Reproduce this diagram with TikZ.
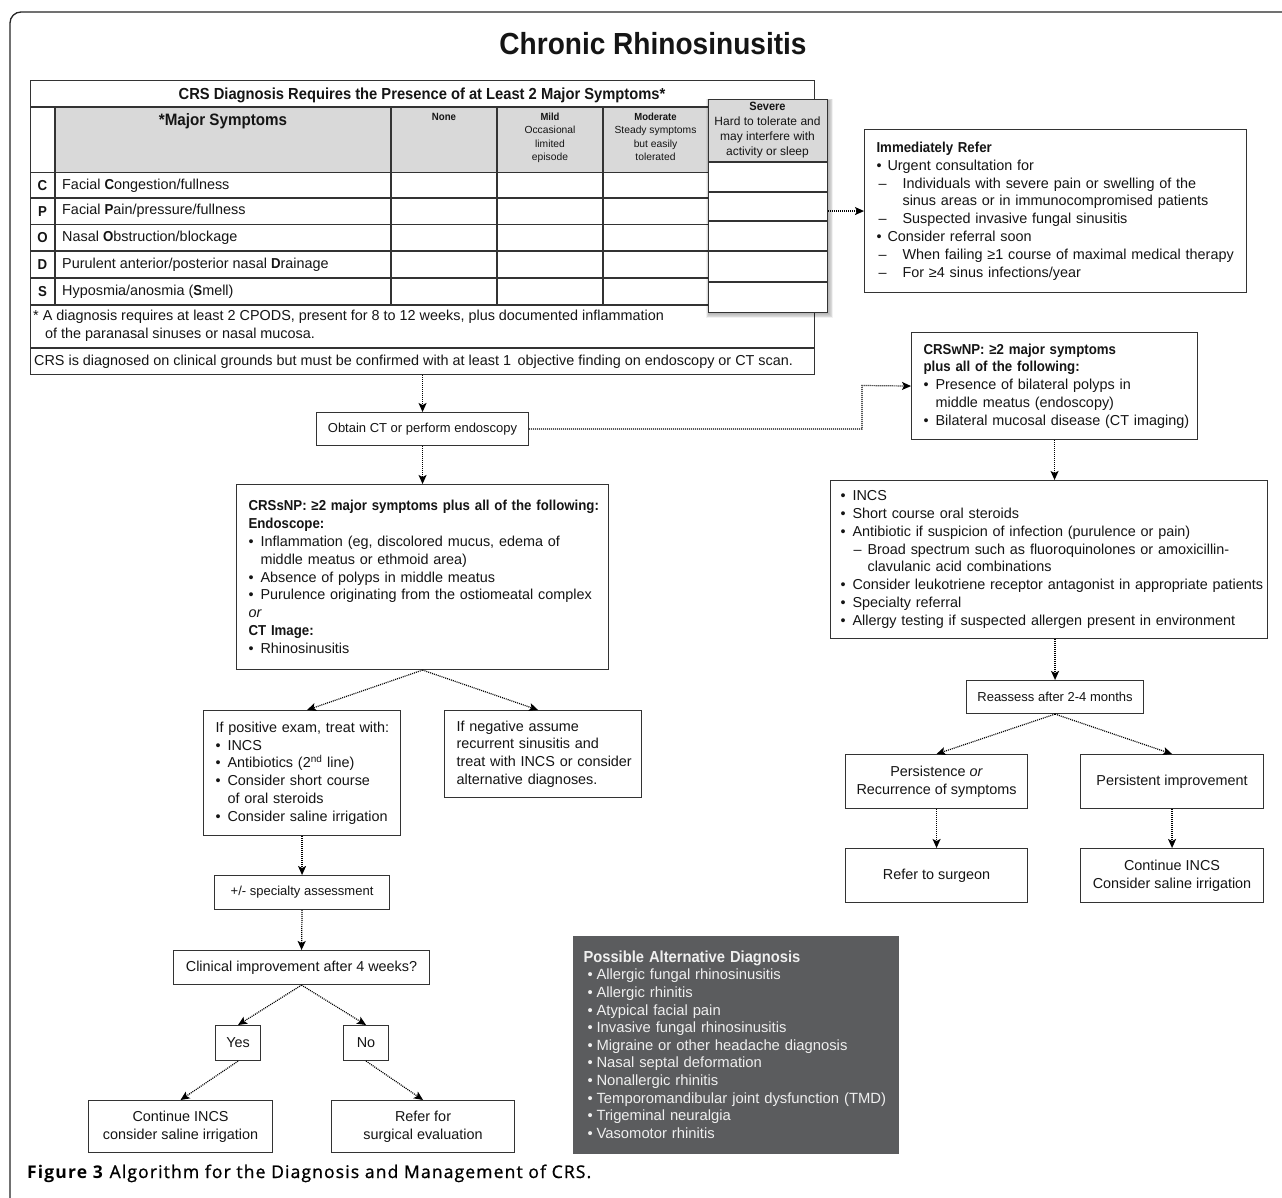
\documentclass[tikz,border=0pt]{standalone}
\usepackage{fontspec}
\setmainfont{Liberation Sans}[BoldFeatures={FakeStretch=0.92}]
\newfontfamily\capfont{Open Sans}[LetterSpace=6.5]
\newfontfamily\capfontm{Open Sans}[LetterSpace=6.5,FakeBold=1]
\usetikzlibrary{arrows.meta,calc}
\definecolor{lc}{HTML}{333333}
\definecolor{hdr}{HTML}{D9D9D9}
\definecolor{gbox}{HTML}{5B5C5E}
\definecolor{gtxt}{HTML}{EFEFEF}
\definecolor{txt}{HTML}{151515}
\newcommand{\fs}{\fontsize{14.4}{17.8}\selectfont}
\newcommand{\fss}{\fontsize{13}{16}\selectfont}
\newcommand{\bul}[1][12pt]{\makebox[#1][l]{•}}
\newcommand{\dsh}[2]{\hspace*{#1}\makebox[#2][l]{–}}
\tikzset{
  box/.style={draw=lc, line width=1.1pt, fill=white, anchor=north west, inner sep=0pt, align=left, font=\fs, text=txt},
  cbox/.style={draw=lc, line width=1.1pt, fill=white, anchor=north west, inner sep=0pt, align=center, font=\fs, text=txt},
  arr/.style={draw=black, line width=1.2pt, dash pattern=on 1pt off 1pt, -{Stealth[length=9pt,width=8pt,inset=2pt]}},
  tline/.style={draw=lc, line width=1.1pt},
  ttext/.style={inner sep=0pt, text=txt, font=\fs},
}
\begin{document}
\begin{tikzpicture}[x=1pt,y=-1pt]
\useasboundingbox (0,0) rectangle (1282,1198);
\fill[white] (0,0) rectangle (1282,1198);
% outer frame
\draw[line width=1.3pt, draw=black!85, rounded corners=11pt] (10,1215) -- (10,12) -- (1300,12);
% title
\node[ttext, anchor=base, font=\fontsize{30.5}{34}\selectfont\bfseries] (title) at (653,55) {Chronic Rhinosinusitis};

% ---------- table ----------
\fill[hdr] (55,107) rectangle (708,172.7);
\node[draw=lc, line width=1.1pt, anchor=north west, minimum width=784pt, minimum height=294pt, inner sep=0pt] (tbl) at (30,80) {};
\draw[tline] (30,107) -- (814,107);
\foreach \yy in {172.7,198,224.5,251,278,305} \draw[tline] (30,\yy) -- (708,\yy);
\draw[tline] (30,348) -- (814,348);
\foreach \xx in {55,391,497,603} \draw[tline] (\xx,107) -- (\xx,305);
\node[ttext, font=\fontsize{16}{18}\selectfont\bfseries] (ttitle) at (422,95) {CRS Diagnosis Requires the Presence of at Least 2 Major Symptoms*};
\node[ttext, anchor=north, font=\fontsize{16.5}{18}\selectfont\bfseries] (hmaj) at (223,113) {*Major Symptoms};
\node[ttext, anchor=north, font=\fontsize{10.5}{13.3}\selectfont\bfseries] (hnone) at (444,113) {None};
\node[ttext, anchor=north, align=center, font=\fontsize{10.3}{13.3}\selectfont] (hmild) at (550,113) {\textbf{Mild}\\Occasional\\limited\\episode};
\node[ttext, anchor=north, align=center, font=\fontsize{10.3}{13.3}\selectfont] (hmod) at (655.5,113) {\textbf{Moderate}\\Steady symptoms\\but easily\\tolerated};
% rows
\node[ttext, font=\fs\bfseries] (lc) at (42.5,185.4) {C};
\node[ttext, font=\fs\bfseries] (lp) at (42.5,211.2) {P};
\node[ttext, font=\fs\bfseries] (lo) at (42.5,237.7) {O};
\node[ttext, font=\fs\bfseries] (ld) at (42.5,264.5) {D};
\node[ttext, font=\fs\bfseries] (ls) at (42.5,291.5) {S};
\node[ttext, anchor=west] (sc) at (62,185.4) {Facial \textbf{C}ongestion/fullness};
\node[ttext, anchor=west] (sp) at (62,211.2) {Facial \textbf{P}ain/pressure/fullness};
\node[ttext, anchor=west] (so) at (62,237.7) {Nasal \textbf{O}bstruction/blockage};
\node[ttext, anchor=west] (sd) at (62,264.5) {Purulent anterior/posterior nasal \textbf{D}rainage};
\node[ttext, anchor=west] (ss) at (62,291.5) {Hyposmia/anosmia (\textbf{S}mell)};
\node[ttext, anchor=north west, align=left] (fn) at (33,310) {* A diagnosis requires at least 2 CPODS, present for 8 to 12 weeks, plus documented inflammation\\\hspace*{12pt}of the paranasal sinuses or nasal mucosa.};
\node[ttext, anchor=west] (crsdx) at (34,361.5) {CRS is diagnosed on clinical grounds but must be confirmed with at least 1\, objective finding on endoscopy or CT scan.};
% severe column
\foreach \s in {1,...,7} \fill[black,opacity=0.05] (708+1.5-0.45*\s, 99+2-0.3*\s) rectangle (827+0.9*\s, 312+0.9*\s);
\fill[white] (708,99) rectangle (827,312);
\fill[hdr] (708,99) rectangle (827,162);
\foreach \yy in {162,192,221,251,282} \draw[tline] (708,\yy) -- (827,\yy);
\node[draw=lc, line width=1.2pt, anchor=north west, minimum width=119pt, minimum height=213pt, inner sep=0pt] (sev) at (708,99) {};
\node[ttext, anchor=north, align=center, font=\fontsize{12}{15}\selectfont] (hsev) at (767.5,102) {\textbf{Severe}\\Hard to tolerate and\\may interfere with\\activity or sleep};

% ---------- right upper ----------
\node[box, text width=382pt, minimum height=163pt] (refer) at (864,129) {\leftskip=12pt \textbf{Immediately Refer}\\
\bul[11pt]Urgent consultation for\\
\dsh{2pt}{24pt}Individuals with severe pain or swelling of the\\
\hspace*{26pt}sinus areas or in immunocompromised patients\\
\dsh{2pt}{24pt}Suspected invasive fungal sinusitis\\
\bul[11pt]Consider referral soon\\
\dsh{2pt}{24pt}When failing ≥1 course of maximal medical therapy\\
\dsh{2pt}{24pt}For ≥4 sinus infections/year\par};

\node[box, text width=286pt, minimum height=107pt] (crswnp) at (911,332) {\leftskip=12pt \textbf{CRSwNP: ≥2 major symptoms}\\
\textbf{plus all of the following:}\\
\bul Presence of bilateral polyps in\\
\hspace*{12pt}middle meatus (endoscopy)\\
\bul Bilateral mucosal disease (CT imaging)\par};

\node[box, text width=437pt, minimum height=158pt] (treat) at (830,480) {\leftskip=10pt \bul INCS\\
\bul Short course oral steroids\\
\bul Antibiotic if suspicion of infection (purulence or pain)\\
\dsh{13pt}{14pt}Broad spectrum such as fluoroquinolones or amoxicillin-\\
\hspace*{27pt}clavulanic acid combinations\\
\bul Consider leukotriene receptor antagonist in appropriate patients\\
\bul Specialty referral\\
\bul Allergy testing if suspected allergen present in environment\par};

\node[cbox, font=\fss, minimum width=177pt, minimum height=33pt] (reassess) at (966,680) {Reassess after 2-4 months};
\node[cbox, minimum width=182pt, minimum height=54pt] (persist) at (845,754) {Persistence \textit{or}\\Recurrence of symptoms};
\node[cbox, minimum width=183pt, minimum height=54pt] (improve) at (1080,754) {Persistent improvement};
\node[cbox, minimum width=182pt, minimum height=54pt] (surgeon) at (845,848) {Refer to surgeon};
\node[cbox, minimum width=183pt, minimum height=54pt] (contR) at (1080,848) {Continue INCS\\Consider saline irrigation};

% ---------- left column ----------
\node[cbox, font=\fss, minimum width=212pt, minimum height=33pt] (obtain) at (316,412) {Obtain CT or perform endoscopy};
\node[box, text width=372pt, minimum height=185pt] (crssnp) at (236,484) {\leftskip=12pt \textbf{CRSsNP: ≥2 major symptoms plus all of the following:}\\
\textbf{Endoscope:}\\
\bul Inflammation (eg, discolored mucus, edema of\\
\hspace*{12pt}middle meatus or ethmoid area)\\
\bul Absence of polyps in middle meatus\\
\bul Purulence originating from the ostiomeatal complex\\
\textit{or}\\
\textbf{CT Image:}\\
\bul Rhinosinusitis\par};

\node[box, text width=197pt, minimum height=125pt] (pos) at (203,710) {\leftskip=12pt If positive exam, treat with:\\
\bul INCS\\
\bul Antibiotics (2\textsuperscript{nd} line)\\
\bul Consider short course\\
\hspace*{12pt}of oral steroids\\
\bul Consider saline irrigation\par};
\node[box, text width=197pt, minimum height=87pt] (neg) at (444,710) {\leftskip=12pt If negative assume\\recurrent sinusitis and\\treat with INCS or consider\\alternative diagnoses.\par};

\node[cbox, font=\fss, minimum width=175pt, minimum height=34pt] (spec) at (214,875) {+/- specialty assessment};
\node[cbox, minimum width=256pt, minimum height=34pt] (clin) at (173,950) {Clinical improvement after 4 weeks?};
\node[cbox, minimum width=45pt, minimum height=35pt] (yes) at (215,1025) {Yes};
\node[cbox, minimum width=45pt, minimum height=35pt] (no) at (343,1025) {No};
\node[cbox, minimum width=184pt, minimum height=52pt] (contL) at (88,1100) {Continue INCS\\consider saline irrigation};
\node[cbox, minimum width=183pt, minimum height=52pt] (surgL) at (331,1100) {Refer for\\surgical evaluation};

% grey box
\node[box, draw=none, fill=gbox, text=gtxt, text width=326pt, minimum height=218pt, font=\fontsize{14.8}{17.6}\selectfont] (alt) at (572,935) {\leftskip=11pt {\fontsize{16}{17.6}\selectfont\bfseries Possible Alternative Diagnosis}\\
\hspace*{4pt}\bul[9pt]Allergic fungal rhinosinusitis\\
\hspace*{4pt}\bul[9pt]Allergic rhinitis\\
\hspace*{4pt}\bul[9pt]Atypical facial pain\\
\hspace*{4pt}\bul[9pt]Invasive fungal rhinosinusitis\\
\hspace*{4pt}\bul[9pt]Migraine or other headache diagnosis\\
\hspace*{4pt}\bul[9pt]Nasal septal deformation\\
\hspace*{4pt}\bul[9pt]Nonallergic rhinitis\\
\hspace*{4pt}\bul[9pt]Temporomandibular joint dysfunction (TMD)\\
\hspace*{4pt}\bul[9pt]Trigeminal neuralgia\\
\hspace*{4pt}\bul[9pt]Vasomotor rhinitis\par};

% caption
\node[anchor=base west, inner sep=0pt, text=black] (cap) at (27,1178) {\fontsize{17.5}{20}\selectfont\capfont\textbf{Figure 3} \capfontm Algorithm for the Diagnosis and Management of CRS.};

% ---------- connectors ----------
\coordinate (elbow) at (862,385.5);
\draw[arr] (sev.east |- refer.west) -- (refer.west);
\draw[arr] (tbl.south) -- (obtain.north);
\draw[arr] (obtain.south) -- (crssnp.north);
\draw[arr] (obtain.east) -| (elbow) -- (crswnp.west);
\draw[arr] (crssnp.south) -- ($(pos.north)+(5,0)$);
\draw[arr] (crssnp.south) -- ($(neg.north)+(-5,0)$);
\draw[arr] (pos.south) -- (spec.north);
\draw[arr] (spec.south) -- (clin.north);
\draw[arr] (clin.south) -- (yes.north);
\draw[arr] (clin.south) -- (no.north);
\draw[arr] (yes.south) -- (contL.north);
\draw[arr] (no.south) -- (surgL.north);
\draw[arr] (crswnp.south) -- (crswnp.south |- treat.north);
\draw[arr] (reassess.north |- treat.south) -- (reassess.north);
\draw[arr] (reassess.south) -- (persist.north);
\draw[arr] (reassess.south) -- (improve.north);
\draw[arr] (persist.south) -- (surgeon.north);
\draw[arr] (improve.south) -- (contR.north);
\end{tikzpicture}
\end{document}
